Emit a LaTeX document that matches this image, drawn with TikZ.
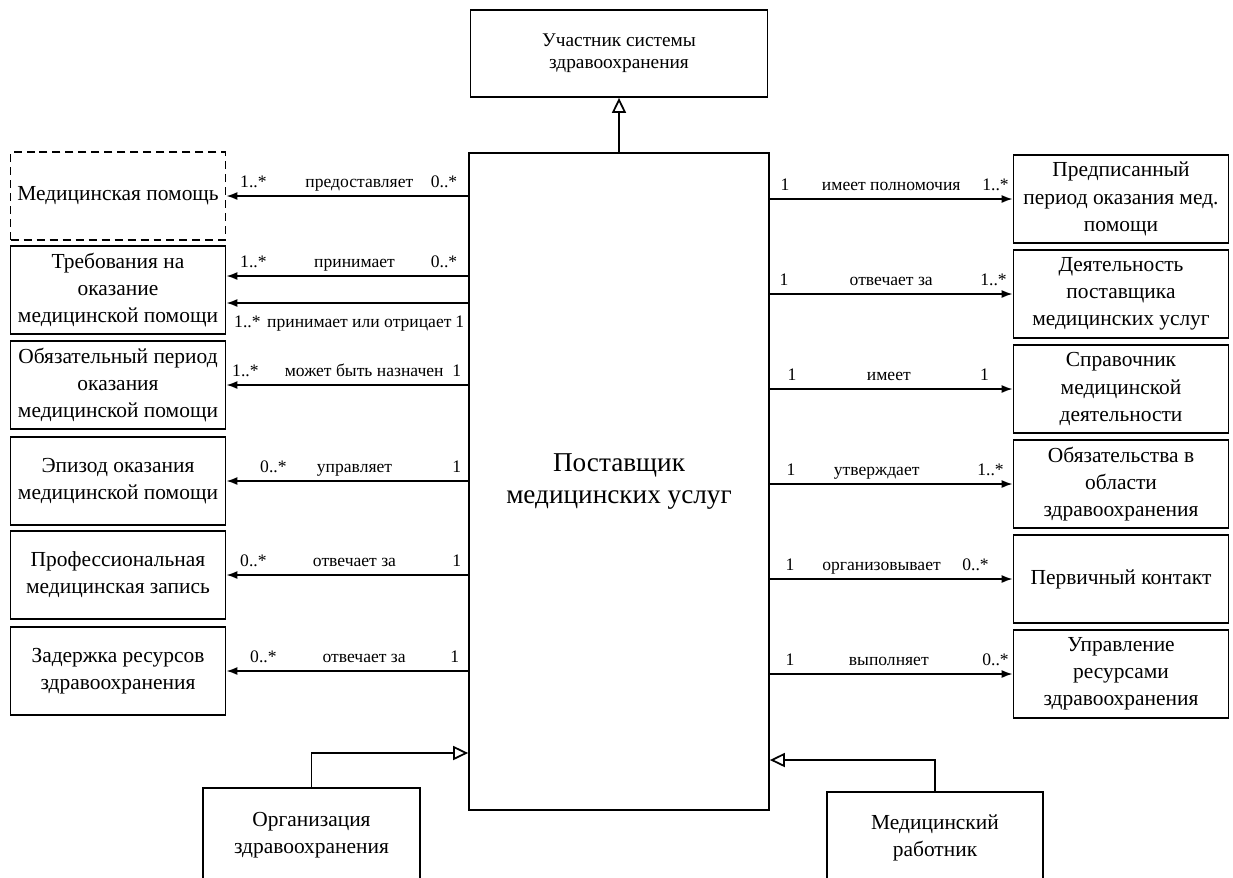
\documentclass[tikz,border=0pt]{standalone}
\usepackage{fontspec}
\setmainfont{Liberation Serif}
\usetikzlibrary{arrows.meta}
\tikzset{
  entity/.style={draw, line width=1pt, minimum width=4.3cm, minimum height=1.76cm, align=center, inner sep=1pt, font=\fontsize{12.2}{15.5}\selectfont},
  optentity/.style={entity, dash pattern=on 0.16cm off 0.1cm},
  assoc/.style={line width=1pt, -{Latex[length=0.22cm,width=0.16cm]}},
  gen/.style={line width=1pt, -{Triangle[open,length=0.3cm,width=0.28cm]}},
  mult/.style={font=\fontsize{10}{12}\selectfont, inner sep=0pt, anchor=base},
  up/.style={yshift=0.18cm},
  down/.style={yshift=-0.48cm},
}

\begin{document}
\begin{tikzpicture}[x=0.02cm, y=-0.02cm]
  \useasboundingbox (0,0) rectangle (1233,877);
  \clip (0,0) rectangle (1233,877);

  % Central class and its parent
  \node[draw, line width=1pt, minimum width=6cm, minimum height=13.14cm, align=center,
        font=\fontsize{15.5}{18}\selectfont] (prov) at (619,481.5) {Поставщик\\медицинских услуг};
  \node[entity, minimum width=5.94cm, minimum height=1.74cm, font=\fontsize{11}{12.5}\selectfont]
        (part) at (619,53.5) {Участник системы\\здравоохранения};
  \draw[gen] (prov.north) -- (prov.north |- part.south);

  % Left column
  \node[optentity] (care) at (118,196) {Медицинская помощь};
  \node[entity] (req) at (118,290) {Требования на\\оказание\\медицинской помощи};
  \node[entity] (oblig) at (118,385) {Обязательный период\\оказания\\медицинской помощи};
  \node[entity] (episode) at (118,481) {Эпизод оказания\\медицинской помощи};
  \node[entity] (record) at (118,575) {Профессиональная\\медицинская запись};
  \node[entity] (delay) at (118,671) {Задержка ресурсов\\здравоохранения};

  % Right column
  \node[entity] (presc) at (1121,199) {Предписанный\\период оказания мед.\\помощи};
  \node[entity] (activ) at (1121,294) {Деятельность\\поставщика\\медицинских услуг};
  \node[entity] (dir) at (1121,389) {Справочник\\медицинской\\деятельности};
  \node[entity] (commit) at (1121,484) {Обязательства в\\области\\здравоохранения};
  \node[entity] (contact) at (1121,579) {Первичный контакт};
  \node[entity] (mgmt) at (1121,674) {Управление\\ресурсами\\здравоохранения};

  % Subclasses
  \node[entity, minimum width=4.34cm, minimum height=1.88cm] (org) at (311.5,835) {Организация\\здравоохранения};
  \node[entity, minimum width=4.32cm, minimum height=1.84cm] (worker) at (935,838) {Медицинский\\работник};
  \coordinate (orgtip) at (prov.west |- 0,753);
  \coordinate (workertip) at (prov.east |- 0,760);
  \draw[gen] (org.north) |- (orgtip);
  \draw[gen] (worker.north) |- (workertip);

  % Associations to the left
  \draw[assoc] (prov.west |- care.east) -- (care.east)
    node[mult, up, pos=0, anchor=base east, xshift=-0.2cm] {0..*}
    node[mult, up, pos=0.45] {предоставляет}
    node[mult, up, pos=1, anchor=base west, xshift=0.26cm] {1..*};
  \draw[assoc] ([yshift=0.28cm]prov.west |- req.east) -- ([yshift=0.28cm]req.east)
    node[mult, up, pos=0, anchor=base east, xshift=-0.2cm] {0..*}
    node[mult, up, pos=0.47] {принимает}
    node[mult, up, pos=1, anchor=base west, xshift=0.26cm] {1..*};
  \draw[assoc] ([yshift=-0.26cm]prov.west |- req.east) -- ([yshift=-0.26cm]req.east)
    node[mult, down, pos=0, anchor=base east, xshift=-0.06cm] {1}
    node[mult, down, pos=0.45] {принимает или отрицает}
    node[mult, down, pos=1, anchor=base west, xshift=0.14cm] {1..*};
  \draw[assoc] (prov.west |- oblig.east) -- (oblig.east)
    node[mult, up, pos=0, anchor=base east, xshift=-0.12cm] {1}
    node[mult, up, pos=0.43] {может быть назначен}
    node[mult, up, pos=1, anchor=base west, xshift=0.1cm] {1..*};
  \draw[assoc] (prov.west |- episode.east) -- (episode.east)
    node[mult, up, pos=0, anchor=base east, xshift=-0.12cm] {1}
    node[mult, up, pos=0.47] {управляет}
    node[mult, up, pos=1, anchor=base west, xshift=0.66cm] {0..*};
  \draw[assoc] (prov.west |- record.east) -- (record.east)
    node[mult, up, pos=0, anchor=base east, xshift=-0.12cm] {1}
    node[mult, up, pos=0.47] {отвечает за}
    node[mult, up, pos=1, anchor=base west, xshift=0.26cm] {0..*};
  \draw[assoc] (prov.west |- delay.east) -- (delay.east)
    node[mult, up, pos=0, anchor=base east, xshift=-0.16cm] {1}
    node[mult, up, pos=0.43] {отвечает за}
    node[mult, up, pos=1, anchor=base west, xshift=0.46cm] {0..*};

  % Associations to the right
  \draw[assoc] (prov.east |- presc.west) -- (presc.west)
    node[mult, up, pos=0, anchor=base west, xshift=0.2cm] {1}
    node[mult, up, pos=0.5] {имеет полномочия}
    node[mult, up, pos=1, anchor=base east, xshift=-0.06cm] {1..*};
  \draw[assoc] (prov.east |- activ.west) -- (activ.west)
    node[mult, up, pos=0, anchor=base west, xshift=0.18cm] {1}
    node[mult, up, pos=0.5] {отвечает за}
    node[mult, up, pos=1, anchor=base east, xshift=-0.1cm] {1..*};
  \draw[assoc] (prov.east |- dir.west) -- (dir.west)
    node[mult, up, pos=0, anchor=base west, xshift=0.34cm] {1}
    node[mult, up, pos=0.49] {имеет}
    node[mult, up, pos=1, anchor=base east, xshift=-0.46cm] {1};
  \draw[assoc] (prov.east |- commit.west) -- (commit.west)
    node[mult, up, pos=0, anchor=base west, xshift=0.32cm] {1}
    node[mult, up, pos=0.44] {утверждает}
    node[mult, up, pos=1, anchor=base east, xshift=-0.16cm] {1..*};
  \draw[assoc] (prov.east |- contact.west) -- (contact.west)
    node[mult, up, pos=0, anchor=base west, xshift=0.3cm] {1}
    node[mult, up, pos=0.46] {организовывает}
    node[mult, up, pos=1, anchor=base east, xshift=-0.46cm] {0..*};
  \draw[assoc] (prov.east |- mgmt.west) -- (mgmt.west)
    node[mult, up, pos=0, anchor=base west, xshift=0.3cm] {1}
    node[mult, up, pos=0.49] {выполняет}
    node[mult, up, pos=1, anchor=base east, xshift=-0.06cm] {0..*};
\end{tikzpicture}
\end{document}
